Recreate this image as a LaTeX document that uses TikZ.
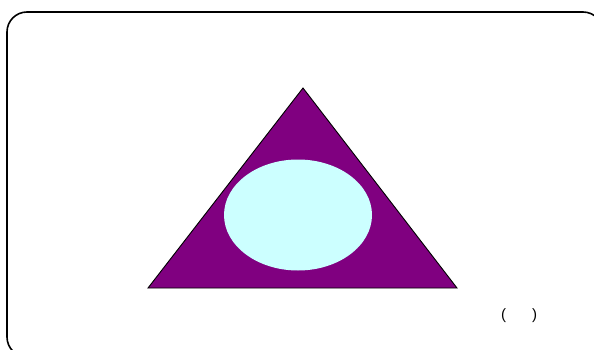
\documentclass[tikz,border=0pt]{standalone}
\usepackage{fontspec}
\setmainfont{Liberation Sans}
\usetikzlibrary{shapes.geometric}
\definecolor{tripurple}{HTML}{800080}
\definecolor{lightcyan}{HTML}{CCFFFF}
\begin{document}
\begin{tikzpicture}[x=1pt,y=-1pt,
  frame/.style={draw=black,line width=1.6pt,rounded corners=20pt},
  tri/.style={fill=tripurple,draw=black,line width=0.9pt},
  oval/.style={fill=lightcyan,draw=none}]
\useasboundingbox (0,0) rectangle (594,350);
\begin{scope}
\clip (0,0) rectangle (594,350);
\draw[frame] (7,12) rectangle (603,357);
\end{scope}
\coordinate (A) at (303,88);
\coordinate (B) at (148,288);
\coordinate (C) at (457,288);
\draw[tri] (A) -- (B) -- (C) -- cycle;
\node[oval,ellipse,minimum width=148pt,minimum height=111pt,inner sep=0pt] (E) at (298,215) {};
\node[font=\fontsize{15}{17}\selectfont] (P) at (519,316) {(\hspace{26pt})};
\end{tikzpicture}
\end{document}
